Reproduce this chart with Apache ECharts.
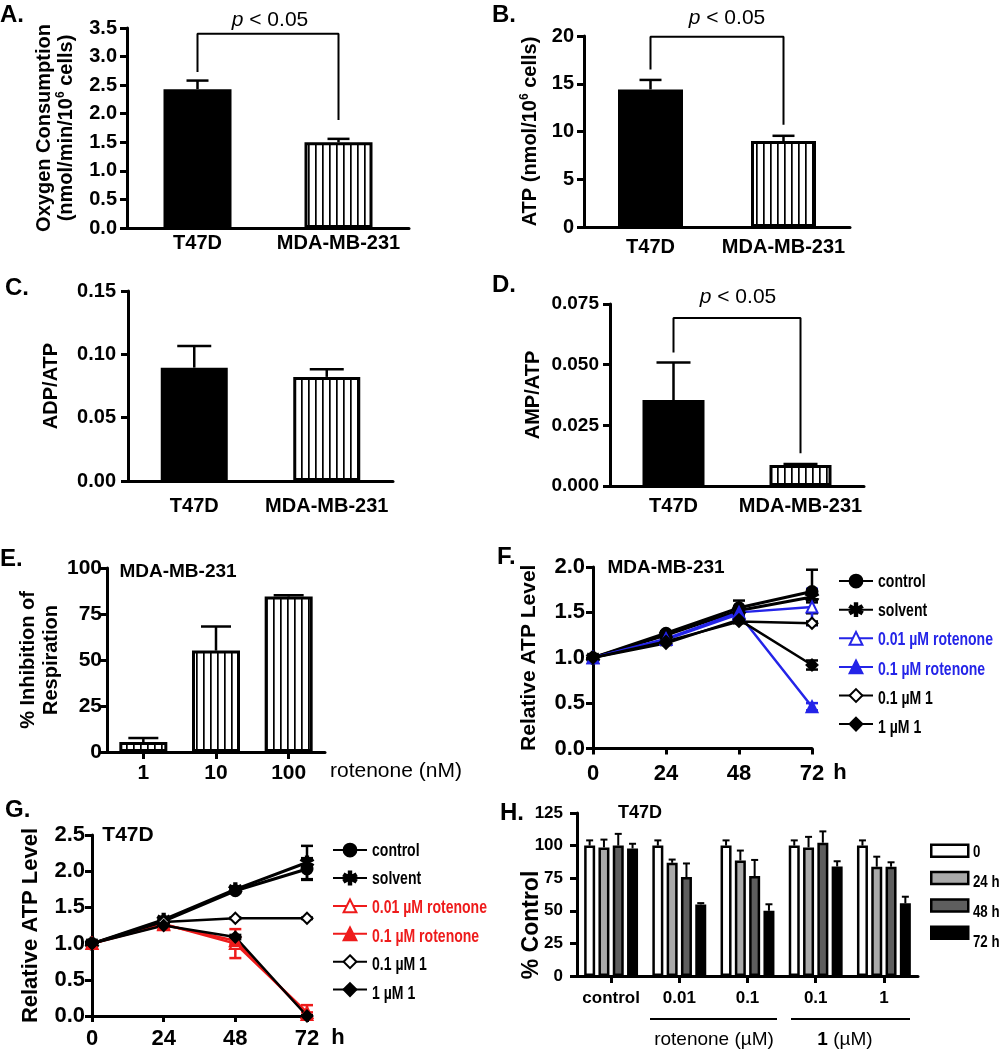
<!DOCTYPE html>
<html>
<head>
<meta charset="utf-8">
<script src="https://cdn.jsdelivr.net/npm/echarts@6/dist/echarts.min.js"></script>
<style>html,body{margin:0;padding:0;background:#fff}#main{width:999px;height:1050px}</style>
</head>
<body>
<div id="main"></div>
<script>
// ---- data ----
var cellLines = ['T47D', 'MDA-MB-231'];
var oxygenMean = [2.43, 1.50];
var oxygenErr = [0.15, 0.06];
var oxygenBracket = [2.73, 3.40, 1.89];   // left leg end, top, right leg end
var atpMean = [14.4, 9.0];
var atpErr = [1.0, 0.55];
var atpBracket = [16.5, 19.93, 10.7];
var adpAtp = [0.0895, 0.0822];
var adpAtpErr = [0.017, 0.006];
var ampAtp = [0.0354, 0.0087];
var ampAtpErr = [0.0155, 0.0004];
var ampBracket = [0.055, 0.0692, 0.0135];
var rotenoneDoses = ['1', '10', '100'];
var inhibition = [5.4, 55.1, 84.5];
var inhibitionErr = [2.2, 13.1, 0.7];
var hours = [0, 24, 48, 72];
var treatments = ['control', 'solvent', '0.01 µM rotenone', '0.1 µM rotenone', '0.1 µM 1', '1 µM 1'];
var mdaAtp = [
  [1.00, 1.27, 1.55, 1.73],
  [1.00, 1.25, 1.52, 1.67],
  [1.00, 1.21, 1.50, 1.56],
  [1.00, 1.20, 1.48, 0.46],
  [1.00, 1.18, 1.40, 1.38],
  [1.00, 1.16, 1.42, 0.92]
];
var mdaAtpErr = [
  [0, 0.02, 0.08, 0.24],
  [0, 0.02, 0.04, 0.06],
  [0, 0.02, 0.05, 0.20],
  [0, 0.02, 0.03, 0.04],
  [0, 0.02, 0.02, 0.02],
  [0, 0.02, 0.03, 0.05]
];
var t47dAtp = [
  [1.00, 1.31, 1.73, 2.03],
  [1.00, 1.33, 1.75, 2.12],
  [1.00, 1.27, 1.00, 0.05],
  [1.00, 1.26, 1.04, 0.02],
  [1.00, 1.30, 1.35, 1.35],
  [1.00, 1.25, 1.09, 0.00]
];
var t47dAtpErr = [
  [0, 0.02, 0.03, 0.15],
  [0, 0.02, 0.03, 0.23],
  [0, 0.02, 0.20, 0.10],
  [0, 0.02, 0.05, 0.03],
  [0, 0.01, 0.01, 0.01],
  [0, 0.02, 0.03, 0.01]
];
var doseGroups = ['control', '0.01', '0.1', '0.1', '1'];
var timepoints = ['0', '24 h', '48 h', '72 h'];
var pctControl = [
  [100, 100, 100, 100, 100],
  [98.6, 86.8, 88.6, 98.6, 83.8],
  [100, 75.9, 76.6, 102.2, 83.8],
  [97.8, 54.9, 50.0, 84.0, 55.7]
];
var pctControlErr = [
  [4, 4, 4, 4, 4],
  [6, 2.5, 7.6, 8.1, 7.7],
  [9, 10.4, 12.4, 8.7, 3.4],
  [3.6, 1.0, 5.0, 4.0, 5.1]
];

// ---- styles ----
var FONT = "'Liberation Sans', Arial, Helvetica, sans-serif";
var BLUE = '#2424e8', RED = '#ee1b1b';
var timeColors = ['#ffffff', '#a9a9a9', '#5e5e5e', '#000000'];
var ASTERISK = 'path://M4.1 0L5.9 0L5.9 10L4.1 10Z M0.22 3.28L1.12 1.72L9.78 6.72L8.88 8.28Z M8.88 1.72L9.78 3.28L1.12 8.28L0.22 6.72Z';
var markers = ['circle', ASTERISK, 'emptyTriangle', 'triangle', 'emptyDiamond', 'diamond'];

function stripes() {
  var c = document.createElement('canvas');
  c.width = 7; c.height = 8;
  var g = c.getContext('2d');
  g.fillStyle = '#fff'; g.fillRect(0, 0, 7, 8);
  g.fillStyle = '#000'; g.fillRect(0, 0, 1.7, 8);
  return c;
}
var hatch = { color: { image: stripes(), repeat: 'repeat' } };
var solid = { color: '#000' };

var myChart = echarts.init(document.getElementById('main'), null, { renderer: 'canvas' });

function grid(l, t, w, h) {
  return { left: l, top: t, width: w, height: h, containLabel: false, outerBoundsMode: 'none' };
}

function catAxis(gi, cats, margin, fs, ticks) {
  return {
    gridIndex: gi, type: 'category', data: cats,
    axisLine: { show: true, lineStyle: { color: '#000', width: 3 } },
    axisTick: ticks ? { show: true, alignWithLabel: true, length: 7, lineStyle: { color: '#000', width: 3 } } : { show: false },
    axisLabel: { color: '#000', fontWeight: 'bold', fontSize: fs, margin: margin, interval: 0, fontFamily: FONT },
    splitLine: { show: false }
  };
}

function hourAxis(gi, margin) {
  return {
    gridIndex: gi, type: 'value', min: 0, max: 72, interval: 24,
    axisLine: { show: true, onZero: false, lineStyle: { color: '#000', width: 3 } },
    axisTick: { show: true, length: 6, lineStyle: { color: '#000', width: 3 } },
    axisLabel: { color: '#000', fontWeight: 'bold', fontSize: 22, margin: margin, fontFamily: FONT },
    splitLine: { show: false }
  };
}

function valAxis(gi, max, step, digits, name, gap, fs, nameFs, margin, extra) {
  var ax = {
    gridIndex: gi, type: 'value', min: 0, max: max, interval: step,
    name: name, nameLocation: 'middle', nameGap: gap,
    nameTextStyle: { color: '#000', fontWeight: 'bold', fontSize: nameFs, fontFamily: FONT, lineHeight: nameFs + 2 },
    axisLine: { show: true, lineStyle: { color: '#000', width: 3 } },
    axisTick: { show: true, length: 7, lineStyle: { color: '#000', width: 3 } },
    axisLabel: {
      color: '#000', fontWeight: 'bold', fontSize: fs, margin: margin, fontFamily: FONT,
      formatter: function (v) { return v.toFixed(digits); }
    },
    splitLine: { show: false }
  };
  if (extra) {
    for (var k in extra) {
      if (k === 'nameTextStyle') { for (var j in extra[k]) ax.nameTextStyle[j] = extra[k][j]; }
      else ax[k] = extra[k];
    }
  }
  return ax;
}

function barSeries(gi, values, styles, width) {
  return {
    type: 'bar', xAxisIndex: gi, yAxisIndex: gi, barWidth: width, silent: true,
    itemStyle: { borderColor: '#000', borderWidth: 3 },
    data: values.map(function (v, i) { return { value: v, itemStyle: styles[i] }; })
  };
}

// error bars drawn through the axes' own scales
function errSeries(gi, xs, means, errs, opt) {
  var color = opt.color || '#000', lw = opt.width || 2, cap = opt.cap, off = opt.offset || 0;
  return {
    type: 'custom', xAxisIndex: gi, yAxisIndex: gi, silent: true, z: opt.z || 3,
    encode: { x: 0, y: 1 },
    data: means.map(function (m, i) { return [xs[i], m, errs[i]]; }),
    renderItem: function (params, api) {
      var x = api.value(0), m = api.value(1), e = api.value(2);
      if (!e) return null;
      var hi = api.coord([x, m + e]);
      var lo = api.coord([x, opt.both ? m - e : m]);
      var st = { stroke: color, lineWidth: lw };
      var kids = [
        { type: 'line', shape: { x1: lo[0] + off, y1: lo[1], x2: hi[0] + off, y2: hi[1] }, style: st },
        { type: 'line', shape: { x1: hi[0] + off - cap, y1: hi[1], x2: hi[0] + off + cap, y2: hi[1] }, style: st }
      ];
      if (opt.both) kids.push({ type: 'line', shape: { x1: lo[0] + off - cap, y1: lo[1], x2: lo[0] + off + cap, y2: lo[1] }, style: st });
      return { type: 'group', children: kids };
    }
  };
}

function bracket(gi, b) {
  return {
    type: 'line', xAxisIndex: gi, yAxisIndex: gi, silent: true, symbol: 'none',
    lineStyle: { color: '#000', width: 2 },
    data: [[0, b[0]], [0, b[1]], [1, b[1]], [1, b[2]]]
  };
}

function timeSeries(gi, prefix, values, errs, accent) {
  var out = [];
  values.forEach(function (vals, k) {
    var col = (k === 2 || k === 3) ? accent : '#000';
    out.push({
      type: 'line', name: prefix + treatments[k], xAxisIndex: gi, yAxisIndex: gi,
      data: vals.map(function (v, i) { return [hours[i], v]; }),
      symbol: markers[k], symbolSize: k === 1 ? 12 : 11,
      lineStyle: { color: col, width: k < 2 ? 3 : 2.5 },
      itemStyle: { color: col, borderColor: col, borderWidth: 2 },
      z: 4, silent: true
    });
    out.push(errSeries(gi, hours, vals, errs[k], { both: true, cap: 6, color: col, width: 2.5, z: 3 }));
  });
  return out;
}

var series = [];
// A
series.push(barSeries(0, oxygenMean, [solid, hatch], 68));
series.push(errSeries(0, [0, 1], oxygenMean, oxygenErr, { cap: 11, width: 2.5 }));
series.push(bracket(0, oxygenBracket));
// B
series.push(barSeries(1, atpMean, [solid, hatch], 65));
series.push(errSeries(1, [0, 1], atpMean, atpErr, { cap: 11, width: 2.5 }));
series.push(bracket(1, atpBracket));
// C
series.push(barSeries(2, adpAtp, [solid, hatch], 67));
series.push(errSeries(2, [0, 1], adpAtp, adpAtpErr, { cap: 17, width: 2.5 }));
// D
series.push(barSeries(3, ampAtp, [solid, hatch], 62));
series.push(errSeries(3, [0, 1], ampAtp, ampAtpErr, { cap: 17, width: 2.5 }));
series.push(bracket(3, ampBracket));
// E
series.push(barSeries(4, inhibition, [hatch, hatch, hatch], 48));
series.push(errSeries(4, [0, 1, 2], inhibition, inhibitionErr, { cap: 15, width: 2.5 }));
// F, G
series = series.concat(timeSeries(5, 'F:', mdaAtp, mdaAtpErr, BLUE));
series = series.concat(timeSeries(6, 'G:', t47dAtp, t47dAtpErr, RED));
// H
pctControl.forEach(function (vals, k) {
  series.push({
    type: 'bar', name: 'H:' + timepoints[k], xAxisIndex: 7, yAxisIndex: 7, silent: true,
    barWidth: 11, barGap: '30%',
    itemStyle: { color: timeColors[k], borderColor: '#000', borderWidth: 2.5 },
    data: vals
  });
  series.push(errSeries(7, [0, 1, 2, 3, 4], vals, pctControlErr[k], { cap: 3.5, width: 2, offset: (k - 1.5) * 14.3 }));
});

// legends: icons from the library, text drawn narrow below
function legendCfg(prefix, names, left, top, h, gap, w, extra) {
  var l = {
    left: left, top: top, orient: 'vertical', itemWidth: w, itemHeight: h, itemGap: gap,
    padding: 0, selectedMode: false,
    data: names.map(function (n) { return prefix + n; }),
    formatter: function () { return ''; },
    textStyle: { fontSize: 1, lineHeight: 1 }
  };
  for (var k in extra || {}) l[k] = extra[k];
  return l;
}

function txt(text, x, y, font, align, rich, fill) {
  var st = { text: text, font: font, fill: fill || '#000', textAlign: align || 'left', textVerticalAlign: 'middle', align: align || 'left', verticalAlign: 'middle' };
  if (rich) st.rich = rich;
  return { type: 'text', x: x, y: y, silent: true, style: st };
}
function narrow(text, x, y, size, fill) {
  var t = txt(text, x, y, 'bold ' + size + 'px ' + FONT, 'left', null, fill);
  t.scaleX = 0.78;
  return t;
}
var pRich = { i: { fontStyle: 'italic', fontSize: 21, fontFamily: FONT } };
var B = function (s) { return 'bold ' + s + 'px ' + FONT; };
var R = function (s) { return s + 'px ' + FONT; };

var labels = [
  txt('A.', 0, 15, B(24)),
  txt('B.', 492, 15, B(24)),
  txt('C.', 5, 288, B(24)),
  txt('D.', 492, 285, B(24)),
  txt('E.', 0, 559, B(24)),
  txt('F.', 497, 557, B(24)),
  txt('G.', 5, 810, B(24)),
  txt('H.', 500, 813, B(24)),
  txt('{i|p} < 0.05', 270, 20, R(21), 'center', pRich),
  txt('{i|p} < 0.05', 727, 18, R(21), 'center', pRich),
  txt('{i|p} < 0.05', 738, 297, R(21), 'center', pRich),
  txt('MDA-MB-231', 178, 572, B(19), 'center'),
  txt('rotenone (nM)', 330, 771, R(21)),
  txt('MDA-MB-231', 666, 568, B(19), 'center'),
  txt('h', 840, 773, B(22), 'center'),
  txt('T47D', 128, 835, B(21), 'center'),
  txt('h', 338, 1038, B(22), 'center'),
  txt('T47D', 640, 813, B(18), 'center'),
  { type: 'line', silent: true, shape: { x1: 650, y1: 1019, x2: 777, y2: 1019 }, style: { stroke: '#000', lineWidth: 2 } },
  { type: 'line', silent: true, shape: { x1: 791, y1: 1019, x2: 910, y2: 1019 }, style: { stroke: '#000', lineWidth: 2 } },
  txt('rotenone (µM)', 714, 1040, R(19), 'center'),
  txt('{b|1} (µM)', 845, 1040, R(19), 'center', { b: { fontWeight: 'bold', fontSize: 19, fontFamily: FONT } })
];
var hName = txt('% Control', 532, 925, B(23), 'center');
hName.rotation = Math.PI / 2;
labels.push(hName);
treatments.forEach(function (n, k) {
  var accent = (k === 2 || k === 3);
  labels.push(narrow(n, 878, 581.7 + k * 29.3, 18, accent ? BLUE : '#000'));
  labels.push(narrow(n, 372, 850.7 + k * 28.7, 18, accent ? RED : '#000'));
});
timepoints.forEach(function (t, k) {
  labels.push(narrow(t, 973, 852 + k * 30.2, 17, '#000'));
});

var option = {
  animation: false,
  backgroundColor: '#fff',
  textStyle: { fontFamily: FONT },
  grid: [
    grid(127, 28, 282, 200),
    grid(584, 36, 266, 191),
    grid(128, 291, 265, 190),
    grid(610, 304, 254, 182),
    grid(107, 568, 218, 184),
    grid(593, 567, 219, 181.5),
    grid(92, 835, 215, 181),
    grid(577, 813, 341, 163)
  ],
  xAxis: [
    catAxis(0, cellLines, 5, 20, false),
    catAxis(1, cellLines, 10, 20, false),
    catAxis(2, cellLines, 15, 20, false),
    catAxis(3, cellLines, 10, 20, false),
    catAxis(4, rotenoneDoses, 11, 21, true),
    hourAxis(5, 14),
    hourAxis(6, 12),
    catAxis(7, doseGroups, 14, 17, true)
  ],
  yAxis: [
    valAxis(0, 3.5, 0.5, 1, 'Oxygen Consumption\n(nmol/min/10{s|6} cells)', 50, 20, 20, 10,
      { nameTextStyle: { rich: { s: { fontSize: 12, fontWeight: 'bold', verticalAlign: 'top', fontFamily: FONT } } } }),
    valAxis(1, 20, 5, 0, 'ATP (nmol/10{s|6} cells)', 43, 20, 20, 10,
      { nameTextStyle: { rich: { s: { fontSize: 12, fontWeight: 'bold', verticalAlign: 'top', fontFamily: FONT } } } }),
    valAxis(2, 0.15, 0.05, 2, 'ADP/ATP', 66, 20, 20, 12),
    valAxis(3, 0.075, 0.025, 3, 'AMP/ATP', 66, 19, 20, 11),
    valAxis(4, 100, 25, 0, '% Inhibition of\nRespiration', 43, 21, 20, 5, { nameTextStyle: { lineHeight: 23 } }),
    valAxis(5, 2, 0.5, 1, 'Relative ATP Level', 52, 22, 21, 8),
    valAxis(6, 2.5, 0.5, 1, 'Relative ATP Level', 49, 22, 22, 7),
    valAxis(7, 125, 25, 0, '', 34, 17, 23, 14)
  ],
  legend: [
    legendCfg('F:', treatments, 838, 573.7, 16, 13.8, 34),
    legendCfg('G:', treatments, 332, 842.7, 16, 13.1, 34),
    legendCfg('H:', timepoints, 930, 843.4, 12, 12.9, 37, {
      icon: 'rect', itemStyle: { borderColor: '#000', borderWidth: 2.5 }
    })
  ],
  graphic: { elements: labels },
  series: series
};

myChart.setOption(option);
</script>
</body>
</html>
